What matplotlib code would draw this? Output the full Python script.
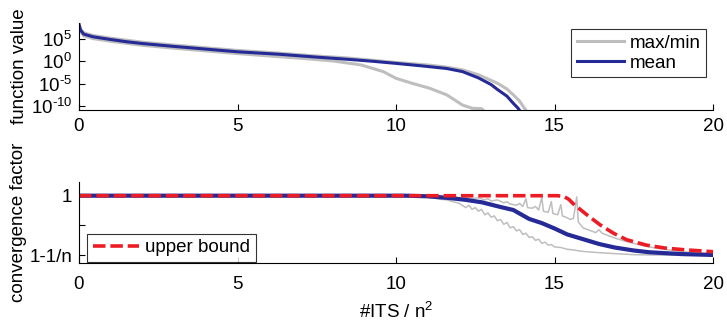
import matplotlib
matplotlib.use("Agg")
import matplotlib.pyplot as plt
import numpy as np

plt.rcParams['font.family'] = ['Liberation Sans', 'DejaVu Sans']
plt.rcParams['mathtext.fontset'] = 'custom'
plt.rcParams['mathtext.rm'] = 'Liberation Sans'
plt.rcParams['mathtext.it'] = 'Liberation Sans:italic'
plt.rcParams['mathtext.bf'] = 'Liberation Sans:bold'
plt.rcParams['lines.scale_dashes'] = False

FS = 13.5
GRAY = '#bebebe'
BLUE = '#262a96'
RED = '#ec1c24'

# ---- top panel: function value (log10) ----
mean_x = [0, 0.05, 0.15, 0.45, 1.0, 1.5, 2.0, 3.0, 4.0, 5.0, 6.3, 7.5, 8.5, 9.3, 10.0,
          10.8, 11.6, 12.1, 12.6, 13.0, 13.2, 13.5, 13.7, 13.85, 14.0]
mean_log = [8.3, 7.0, 6.1, 5.5, 4.9, 4.4, 4.0, 3.35, 2.75, 2.15, 1.6, 0.95, 0.45, 0.0, -0.45,
            -1.0, -1.6, -2.3, -3.7, -5.2, -6.3, -7.8, -9.4, -10.5, -12]
max_x = [0, 0.05, 0.15, 0.45, 1, 2, 3, 4, 5, 6.3, 7.5, 8.5, 10, 11.0, 11.6, 12.1, 12.6,
         13.2, 13.5, 13.7, 13.9, 14.05, 14.2]
max_log = [8.4, 7.2, 6.4, 5.8, 5.2, 4.3, 3.65, 3.05, 2.45, 1.85, 1.2, 0.75, -0.25, -0.8,
           -1.3, -1.9, -3.0, -4.9, -6.2, -7.5, -8.9, -10.5, -12]
min_x = [0, 0.05, 0.15, 0.45, 1, 2, 3, 4, 5, 6.3, 7.0, 8.0, 8.9, 9.6, 10.0, 10.5, 11.05,
         11.6, 12.1, 12.4, 12.7, 12.9]
min_log = [8.1, 6.7, 5.7, 5.1, 4.5, 3.6, 2.95, 2.35, 1.75, 1.05, 0.7, 0.1, -0.8, -2.3,
           -3.8, -4.9, -6.0, -7.5, -9.8, -10.5, -10.6, -12]

# ---- bottom panel: convergence factor (0 = 1-1/n, 1 = 1) ----
cmean_x = [0, 10.3, 11.0, 11.7, 12.2, 12.7, 13.3, 13.7, 14.2, 14.6, 15.0, 15.4, 15.9,
           16.4, 16.9, 17.5, 18.0, 19.0, 20]
cmean_y = [1, 1, 0.99, 0.96, 0.93, 0.89, 0.81, 0.76, 0.61, 0.54, 0.45, 0.35, 0.27,
           0.19, 0.13, 0.08, 0.05, 0.02, 0.005]
cmax_x = [0, 10.5, 10.8, 11.0, 11.2, 11.4, 11.6, 11.8, 12.0, 12.2, 12.4, 12.6, 12.8, 12.9,
          13.0, 13.2, 13.4, 13.5, 13.6, 13.8, 13.9, 14.0, 14.1, 14.15, 14.3, 14.4, 14.5,
          14.6, 14.65, 14.8, 14.9, 14.95, 15.1, 15.2, 15.25, 15.4, 15.5, 15.6, 15.7, 15.75,
          15.9, 16.1, 16.3, 16.4, 16.5, 16.7, 16.9, 17.2, 17.5, 17.8, 18.2, 18.6, 19.0,
          19.5, 20]
cmax_y = [1, 1, 0.995, 0.99, 0.985, 0.995, 0.975, 0.985, 0.96, 0.975, 0.95, 0.965, 0.93,
          0.95, 0.91, 0.93, 0.88, 0.9, 0.86, 0.84, 0.87, 0.82, 0.95, 0.8, 0.79, 0.82, 0.76,
          0.97, 0.74, 0.72, 0.9, 0.7, 0.68, 0.85, 0.66, 0.63, 0.6, 0.62, 0.98, 0.56, 0.46,
          0.42, 0.38, 0.43, 0.37, 0.33, 0.29, 0.24, 0.2, 0.16, 0.12, 0.09, 0.06, 0.04, 0.02]
cmin_x = [0, 10.6, 10.8, 11.0, 11.2, 11.4, 11.6, 11.8, 12.0, 12.2, 12.3, 12.4, 12.5, 12.6,
          12.7, 12.8, 12.9, 13.0, 13.1, 13.2, 13.3, 13.4, 13.5, 13.6, 13.7, 13.8, 13.9,
          14.0, 14.1, 14.2, 14.3, 14.4, 14.5, 14.6, 14.7, 14.8, 14.9, 15.0, 15.2, 15.4,
          15.6, 15.8, 16.0, 16.5, 17.0, 17.5, 18.0, 19.0, 20]
cmin_y = [1, 1, 0.99, 0.97, 0.965, 0.94, 0.93, 0.9, 0.87, 0.8, 0.84, 0.77, 0.8, 0.74,
          0.77, 0.68, 0.71, 0.64, 0.66, 0.58, 0.6, 0.52, 0.55, 0.46, 0.48, 0.41, 0.43,
          0.35, 0.37, 0.3, 0.31, 0.25, 0.27, 0.2, 0.22, 0.17, 0.18, 0.14, 0.13, 0.1, 0.09,
          0.07, 0.06, 0.04, 0.025, 0.01, 0.005, 0.0, 0.0]
bound_x = [0, 15.1, 15.3, 15.45, 15.6, 16.02, 16.44, 16.86, 17.28, 17.9, 18.5, 19.15, 20]
bound_y = [1, 1, 0.985, 0.94, 0.86, 0.68, 0.51, 0.37, 0.26, 0.17, 0.12, 0.09, 0.06]

x_ticks = [0, 5, 10, 15, 20]
top_yticks = [1e5, 1e0, 1e-5, 1e-10]
top_ylabels = ['$10^{5}$', '$10^{0}$', '$10^{\u20105}$', '$10^{\u201010}$']
bot_yticks = [0, 0.5, 1]
bot_ylabels = ['1-1/n', '', '1']

fig = plt.figure(figsize=(7.27, 3.23), dpi=100)
W, H = 727, 323
ax1 = fig.add_axes([79 / W, 1 - 110 / H, 634 / W, 87 / H])
ax2 = fig.add_axes([79 / W, 1 - 263 / H, 634 / W, 81 / H])

for ax in (ax1, ax2):
    ax.spines['top'].set_visible(False)
    ax.spines['right'].set_visible(False)
    ax.tick_params(direction='in', length=4, width=0.8, labelsize=FS, pad=5)
    ax.set_xlim(0, 20)
    ax.set_xticks(x_ticks)
    ax.set_xticklabels([str(t) for t in x_ticks])
ax1.tick_params(axis='x', pad=5.5)
ax2.tick_params(axis='x', pad=9.5)

ax1.plot(max_x, 10 ** np.array(max_log), color=GRAY, lw=2.2, label='max/min')
ax1.plot(min_x, 10 ** np.array(min_log), color=GRAY, lw=2.2)
ax1.plot(mean_x, 10 ** np.array(mean_log), color=BLUE, lw=2.2, label='mean')
ax1.set_yscale('log')
ax1.set_ylim(10 ** -10.9, 10 ** 8.6)
ax1.set_yticks(top_yticks)
ax1.set_yticklabels(top_ylabels)
ax1.yaxis.set_minor_locator(matplotlib.ticker.NullLocator())
ax1.set_ylabel('function value', fontsize=FS)
ax1.yaxis.set_label_coords((28 - 79) / 634, 0.5)
leg1 = ax1.legend(loc='upper right', bbox_to_anchor=(0.989, 0.931), borderaxespad=0,
                  fontsize=FS, frameon=True, fancybox=False, handlelength=2.5,
                  handletextpad=0.3, labelspacing=0.15, borderpad=0.3)
leg1.get_frame().set_edgecolor('black')
leg1.get_frame().set_linewidth(0.8)

ax2.plot(cmax_x, cmax_y, color=GRAY, lw=1.1)
ax2.plot(cmin_x, cmin_y, color=GRAY, lw=1.1)
ax2.plot(cmean_x, cmean_y, color=BLUE, lw=3.0)
ax2.plot(bound_x, bound_y, color=RED, lw=2.6, dashes=(9, 3.5), label='upper bound')
ax2.set_ylim(-0.13, 1.23)
ax2.set_yticks(bot_yticks)
ax2.set_yticklabels(bot_ylabels)
ax2.set_ylabel('convergence factor', fontsize=FS)
ax2.yaxis.set_label_coords((27 - 79) / 634, 0.5)
ax2.set_xlabel('#ITS / n$^2$', fontsize=FS, labelpad=6)
leg2 = ax2.legend(loc='lower left', bbox_to_anchor=(0.0126, 0.012), borderaxespad=0,
                  fontsize=FS, frameon=True, fancybox=False, handlelength=2.5,
                  handletextpad=0.3, borderpad=0.3)
leg2.get_frame().set_edgecolor('black')
leg2.get_frame().set_linewidth(0.8)

fig.savefig('out.png', dpi=100)
